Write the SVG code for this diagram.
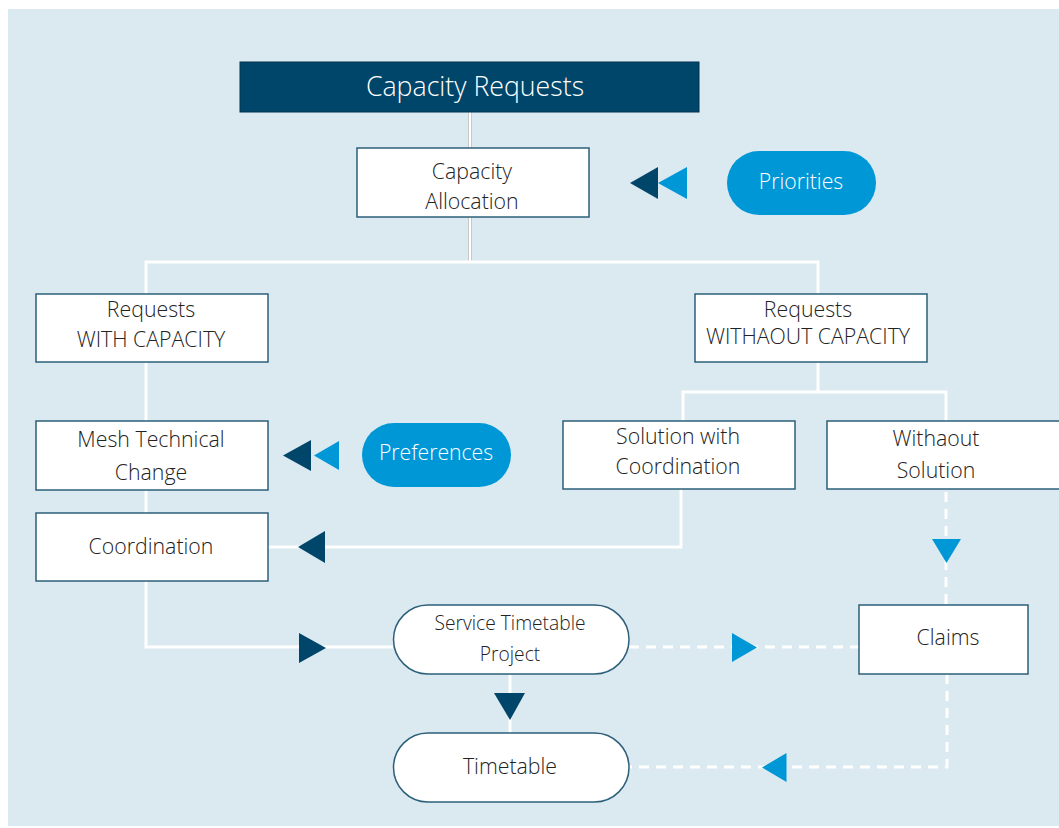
<svg xmlns="http://www.w3.org/2000/svg" width="1059" height="828" viewBox="0 0 1059 828">
<style>
.box{fill:#ffffff;stroke:#2d5f7a;stroke-width:1.5}
.pill{fill:#0097d7}
.t{font-family:"Open Sans","DejaVu Sans",sans-serif;font-weight:300;font-size:21.3px;fill:#222222;text-anchor:middle}
.tw{font-family:"Open Sans","DejaVu Sans",sans-serif;font-weight:300;font-size:21.2px;fill:#ffffff;text-anchor:middle}
.ts{font-family:"Open Sans","DejaVu Sans",sans-serif;font-weight:300;font-size:19.2px;fill:#222222;text-anchor:middle}
.ln{fill:none;stroke:#ffffff;stroke-width:3}
.dl{fill:none;stroke:#ffffff;stroke-width:3;stroke-dasharray:10 7}
.dk{fill:#00466a}
.lb{fill:#0097d7}
</style>
<rect x="8" y="9" width="1051" height="817" fill="#dbe9f1"/>
<g id="connectors">
<line x1="470" y1="112" x2="470" y2="148" stroke="#c8c8c8" stroke-width="4"/>
<line x1="470" y1="112" x2="470" y2="148" stroke="#ffffff" stroke-width="2"/>
<line x1="470" y1="217" x2="470" y2="262" stroke="#c8c8c8" stroke-width="4"/>
<line x1="470" y1="217" x2="470" y2="262" stroke="#ffffff" stroke-width="2"/>
<path class="ln" d="M146 294 V262 H818 V294"/>
<path class="ln" d="M146 362 V421 M146 490 V513 M146 581 V647 H393"/>
<path class="ln" d="M818 362 V392 H683 V421 M818 392 H946 V421"/>
<path class="ln" d="M681 489 V547 H268"/>
<path class="ln" d="M510 674 V733"/>
<path class="dl" d="M946 492 V605"/>
<path class="dl" d="M629 647 H859"/>
<path class="dl" d="M947 674 V767 H629"/>
<polygon class="dk" points="630,183 658,167 658,199"/>
<polygon class="lb" points="658,183 687,167 687,199"/>
<polygon class="dk" points="283,455.5 311,440 311,471"/>
<polygon class="lb" points="314,455.5 339,441 339,470"/>
<polygon class="dk" points="298,547 325,531 325,563"/>
<polygon class="dk" points="326,648 299,633 299,663"/>
<polygon class="lb" points="757,647.5 732,633 732,662"/>
<polygon class="dk" points="494,693 525,693 510,720"/>
<polygon class="lb" points="932,539 961,539 946.5,563"/>
<polygon class="lb" points="762,767.5 786.5,753 786.5,782"/>
</g>
<g id="capacity-requests">
<rect x="240" y="62" width="459" height="50" fill="#00466a" stroke="#003550" stroke-width="1"/>
<text class="tw" x="475" y="96" style="font-size:26.7px">Capacity Requests</text>
</g>
<g id="capacity-allocation">
<rect class="box" x="357" y="148" width="232" height="69"/>
<text class="t" x="472" y="179">Capacity</text>
<text class="t" x="472" y="209">Allocation</text>
</g>
<g id="priorities">
<rect class="pill" x="727" y="151" width="149" height="64" rx="32"/>
<text class="tw" x="801" y="189">Priorities</text>
</g>
<g id="requests-with">
<rect class="box" x="36" y="294" width="232" height="68"/>
<text class="t" x="151" y="317">Requests</text>
<text class="t" x="151" y="347">WITH CAPACITY</text>
</g>
<g id="requests-without">
<rect class="box" x="695" y="294" width="232" height="68"/>
<text class="t" x="808" y="317">Requests</text>
<text class="t" x="808" y="344">WITHAOUT CAPACITY</text>
</g>
<g id="mesh">
<rect class="box" x="36" y="421" width="232" height="69"/>
<text class="t" x="151" y="447">Mesh Technical</text>
<text class="t" x="151" y="480">Change</text>
</g>
<g id="preferences">
<rect class="pill" x="362" y="423" width="149" height="64" rx="32"/>
<text class="tw" x="436" y="460">Preferences</text>
</g>
<g id="coordination">
<rect class="box" x="36" y="513" width="232" height="68"/>
<text class="t" x="151" y="554">Coordination</text>
</g>
<g id="solution-with">
<rect class="box" x="563" y="421" width="232" height="68"/>
<text class="t" x="678" y="444">Solution with</text>
<text class="t" x="678" y="474">Coordination</text>
</g>
<g id="without-solution">
<rect class="box" x="827" y="421" width="240" height="68"/>
<text class="t" x="936" y="446">Withaout</text>
<text class="t" x="936" y="478">Solution</text>
</g>
<g id="service-timetable">
<rect class="box" x="393.5" y="605" width="235.5" height="69" rx="34.5"/>
<text class="ts" x="510" y="630">Service Timetable</text>
<text class="ts" x="510" y="661">Project</text>
</g>
<g id="claims">
<rect class="box" x="859" y="605" width="169" height="69"/>
<text class="t" x="948" y="645">Claims</text>
</g>
<g id="timetable">
<rect class="box" x="393.5" y="733" width="235.5" height="69" rx="34.5"/>
<text class="t" x="510" y="774">Timetable</text>
</g>
</svg>
